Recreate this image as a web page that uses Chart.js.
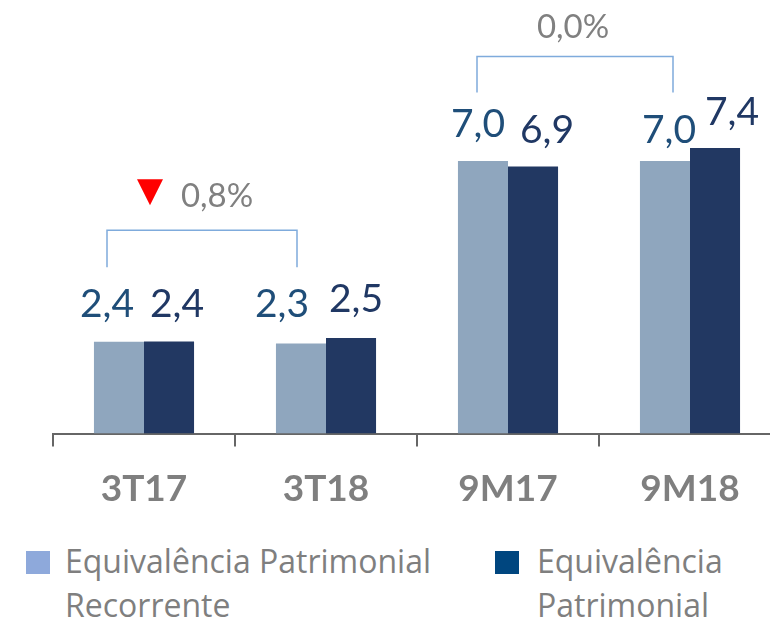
<!DOCTYPE html>
<html>
<head>
<meta charset="utf-8">
<script src="https://cdn.jsdelivr.net/npm/chart.js@4.4.1/dist/chart.umd.min.js"></script>
<style>
  html, body { margin: 0; padding: 0; background: #fff; overflow: hidden; }
  body { width: 770px; height: 620px; position: relative; }
  .chart-wrap { position: absolute; left: 0; top: 0; width: 800px; height: 537px; }
  .legend-item { position: absolute; font-family: "Open Sans", sans-serif; font-size: 32px; line-height: 44px; color: #7F7F7F; }
  .legend-box { position: absolute; width: 24px; height: 23px; }
</style>
</head>
<body>
<div class="chart-wrap"><canvas id="eqChart"></canvas></div>
<div id="legend"></div>

<script>
// ---- data ----
const periods = ['3T17', '3T18', '9M17', '9M18'];
const seriesNames = ['Equivalência Patrimonial Recorrente', 'Equivalência Patrimonial'];
const recorrente = [2.37, 2.33, 7.04, 7.04];
const patrimonial = [2.38, 2.47, 6.90, 7.38];
const variations = ['0,8%', '0,0%'];

const colLight = '#8FA6BE';
const colDark = '#223862';
const fmt = v => v.toFixed(1).replace('.', ',');

// value labels above bars
const valueLabels = {
  id: 'valueLabels',
  afterDatasetsDraw(chart, args, opts) {
    const ctx = chart.ctx;
    ctx.save();
    ctx.font = '39px Lato';
    ctx.textAlign = 'center';
    ctx.textBaseline = 'alphabetic';
    chart.data.datasets.forEach((ds, di) => {
      const meta = chart.getDatasetMeta(di);
      ctx.fillStyle = opts.colors[di];
      meta.data.forEach((bar, i) => {
        ctx.fillText(fmt(ds.data[i]), bar.x + opts.shiftX[di][i], bar.y - opts.gap[di][i]);
      });
    });
    ctx.restore();
  }
};

// comparison brackets with % change
const brackets = {
  id: 'brackets',
  afterDraw(chart, args, opts) {
    const ctx = chart.ctx;
    const x = chart.scales.x, y = chart.scales.y;
    ctx.save();
    opts.items.forEach(b => {
      const x1 = x.getPixelForValue(b.from) + b.dxFrom;
      const x2 = x.getPixelForValue(b.to) + b.dxTo;
      const yt = y.getPixelForValue(b.top);
      const yb = y.getPixelForValue(b.bottom);
      ctx.strokeStyle = '#7FABDC';
      ctx.lineWidth = 1.5;
      ctx.beginPath();
      ctx.moveTo(x1, yb); ctx.lineTo(x1, yt); ctx.lineTo(x2, yt); ctx.lineTo(x2, yb);
      ctx.stroke();

      const tx = (x1 + x2) / 2 + b.textDx;
      const ty = yt - b.textGap;
      ctx.font = '33px Lato';
      ctx.fillStyle = '#808080';
      ctx.textAlign = 'center';
      ctx.textBaseline = 'alphabetic';
      ctx.fillText(b.text, tx, ty);

      if (b.arrow) {
        const ax = x1 + b.arrowDx, ay = ty - 2;
        ctx.fillStyle = '#FF0000';
        ctx.beginPath();
        ctx.moveTo(ax - 13, ay - 26);
        ctx.lineTo(ax + 13, ay - 26);
        ctx.lineTo(ax, ay);
        ctx.closePath();
        ctx.fill();
      }
    });
    ctx.restore();
  }
};

new Chart(document.getElementById('eqChart'), {
  type: 'bar',
  data: {
    labels: periods,
    datasets: [
      { label: seriesNames[0], data: recorrente, backgroundColor: colLight },
      { label: seriesNames[1], data: patrimonial, backgroundColor: colDark }
    ]
  },
  options: {
    responsive: true, maintainAspectRatio: false, animation: false,
    layout: { padding: { top: 0, left: 53, right: 19, bottom: 6 } },
    datasets: { bar: { barPercentage: 1, categoryPercentage: 0.55 } },
    plugins: {
      legend: { display: false },
      tooltip: { enabled: false },
      valueLabels: {
        colors: ['#1F4E79', '#203864'],
        shiftX: [[-12, -19, -5, 4], [8, 5, 14, 17]],
        gap: [[25, 26, 24, 18], [24, 26, 23, 23]]
      },
      brackets: {
        items: [
          { from: 0, to: 1, dxFrom: -37, dxTo: -29, top: 5.25, bottom: 4.3, text: variations[0], textDx: 15, textGap: 23, arrow: true, arrowDx: 43 },
          { from: 2, to: 3, dxFrom: -31, dxTo: -17, top: 9.74, bottom: 8.81, text: variations[1], textDx: -2, textGap: 19 }
        ]
      }
    },
    scales: {
      y: { display: false, min: 0, max: 11.2 },
      x: {
        grid: { drawOnChartArea: false, color: '#666666', lineWidth: 2, tickLength: 13 },
        border: { color: '#666666', width: 2 },
        ticks: { color: '#7F7F7F', padding: 20, font: { family: 'Lato', size: 37, weight: 'bold' } }
      }
    }
  },
  plugins: [valueLabels, brackets]
});

// legend (HTML, two columns)
const legendEl = document.getElementById('legend');
const legendSpots = [
  { box: [26, 551], text: [65, 539], width: 420, color: '#8EA9DB' },
  { box: [495, 551], text: [537, 539], width: 220, color: '#00467F' }
];
seriesNames.forEach((name, i) => {
  const s = legendSpots[i];
  legendEl.insertAdjacentHTML('beforeend',
    `<div class="legend-box" style="left:${s.box[0]}px;top:${s.box[1]}px;background:${s.color}"></div>` +
    `<div class="legend-item" style="left:${s.text[0]}px;top:${s.text[1]}px;width:${s.width}px">${name}</div>`);
});
</script>
</body>
</html>
